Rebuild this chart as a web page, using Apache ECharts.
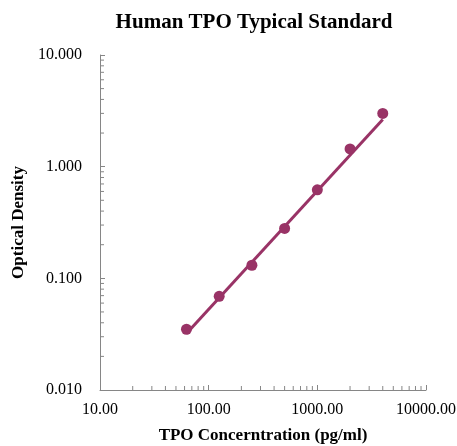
<!DOCTYPE html>
<html><head><meta charset="utf-8">
<script src="https://cdn.jsdelivr.net/npm/echarts@6/dist/echarts.min.js"></script>
<style>html,body{margin:0;padding:0;background:#fff}#c{width:457px;height:446px}</style>
</head><body><div id="c"></div>
<script>
const concentrations = [62.5, 125, 250, 500, 1000, 2000, 4000];
const odValues = [0.035, 0.069, 0.131, 0.28, 0.62, 1.44, 3.0];
const trendX = [62.5, 4000];
const trendY = [0.032, 2.65];
const xMinorTicks = [20,30,40,50,60,70,80,90,200,300,400,500,600,700,800,900,2000,3000,4000,5000,6000,7000,8000,9000];
const yMinorTicks = [0.02,0.03,0.04,0.05,0.06,0.07,0.08,0.09,0.2,0.3,0.4,0.5,0.6,0.7,0.8,0.9,2,3,4,5,6,7,8,9];

const color = '#993366';
const font = '"Liberation Serif", "Times New Roman", serif';

const minorData = xMinorTicks.map(v => [v, 0.01, 0]).concat(yMinorTicks.map(v => [10, v, 1]));

const chart = echarts.init(document.getElementById('c'), null, {renderer: 'canvas'});
chart.setOption({
  animation: false,
  title: {
    text: 'Human TPO Typical Standard',
    left: 249, top: 7, textAlign: 'center',
    textStyle: {fontFamily: font, fontSize: 21, fontWeight: 'bold', color: '#000'}
  },
  grid: {left: 100, right: 31, top: 55, bottom: 56, outerBoundsMode: 'none', containLabel: false},
  xAxis: {
    type: 'log', logBase: 10, min: 10, max: 10000,
    name: 'TPO Concerntration (pg/ml)', nameLocation: 'middle', nameGap: 37,
    nameTextStyle: {fontFamily: font, fontSize: 17, fontWeight: 'bold', color: '#000'},
    axisLine: {lineStyle: {color: '#868686', width: 1}},
    axisTick: {inside: true, length: 5, lineStyle: {color: '#868686'}},
    axisLabel: {fontFamily: font, fontSize: 16, color: '#000', margin: 12,
      hideOverlap: false, showMinLabel: true, showMaxLabel: true,
      formatter: v => Number(v).toFixed(2)},
    splitLine: {show: false}
  },
  yAxis: {
    type: 'log', logBase: 10, min: 0.01, max: 10,
    name: 'Optical Density', nameLocation: 'middle', nameGap: 73,
    nameTextStyle: {fontFamily: font, fontSize: 17, fontWeight: 'bold', color: '#000'},
    axisLine: {show: true, lineStyle: {color: '#868686', width: 1}},
    axisTick: {show: true, inside: true, length: 5, lineStyle: {color: '#868686'}},
    axisLabel: {fontFamily: font, fontSize: 16, color: '#000', margin: 18,
      showMinLabel: true, showMaxLabel: true,
      formatter: v => Number(v).toFixed(3)},
    splitLine: {show: false}
  },
  series: [
    {
      type: 'custom',
      silent: true,
      clip: false,
      data: minorData,
      renderItem: function (params, api) {
        const p = api.coord([api.value(0), api.value(1)]);
        const isY = api.value(2) === 1;
        return {
          type: 'line',
          shape: isY ? {x1: p[0], y1: p[1], x2: p[0] + 4, y2: p[1]}
                     : {x1: p[0], y1: p[1], x2: p[0], y2: p[1] - 4},
          style: {stroke: '#868686', lineWidth: 1}
        };
      },
      z: 1
    },
    {
      type: 'line',
      data: trendX.map((x, i) => [x, trendY[i]]),
      symbol: 'none',
      lineStyle: {color: color, width: 3},
      z: 2
    },
    {
      type: 'scatter',
      data: concentrations.map((x, i) => [x, odValues[i]]),
      symbol: 'circle', symbolSize: 11,
      itemStyle: {color: color, opacity: 1},
      z: 3
    }
  ]
});
</script></body></html>
